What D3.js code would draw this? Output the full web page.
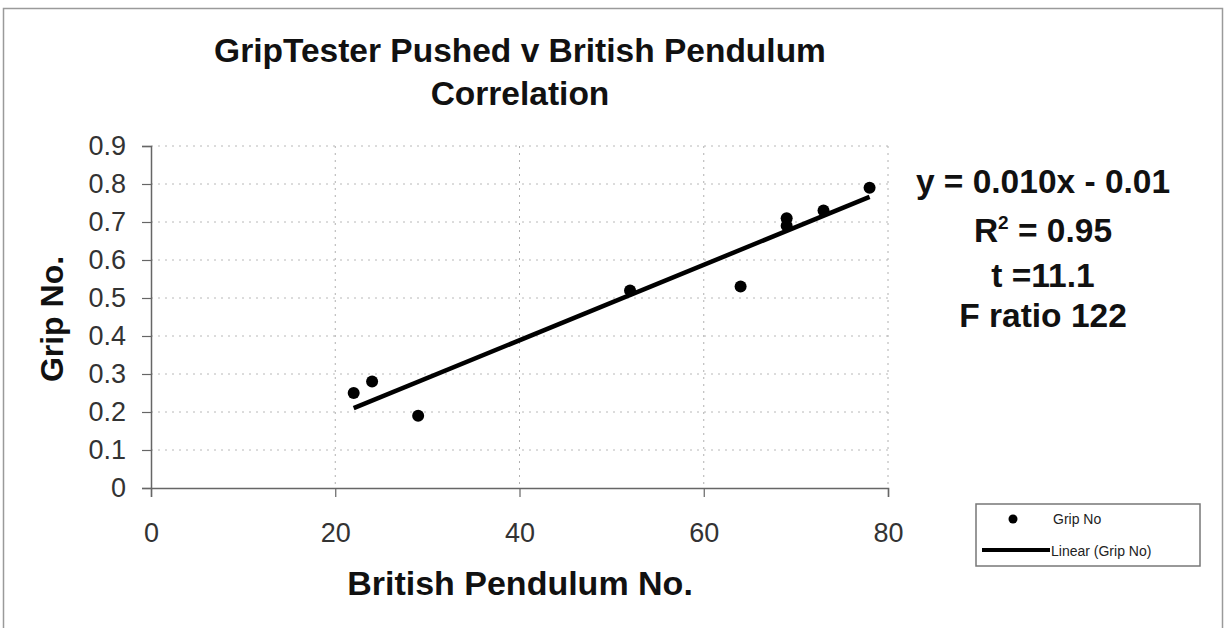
<!DOCTYPE html>
<meta charset="utf-8" />
<script src="https://d3js.org/d3.v7.min.js"></script>
<style>
  body { margin: 0; background: #fff; }
  text { font-family: "Liberation Sans", Arial, sans-serif; }
</style>
<body>
  <div id="my_dataviz"></div>
</body>
<script>
  // data
  var pendulumNo = [22, 24, 29, 52, 64, 69, 69, 73, 78];
  var gripNo = [0.25, 0.28, 0.19, 0.52, 0.53, 0.71, 0.69, 0.73, 0.79];
  var xTicks = [0, 20, 40, 60, 80];
  var yTicks = [0, 0.1, 0.2, 0.3, 0.4, 0.5, 0.6, 0.7, 0.8, 0.9];
  var statLines = ["y = 0.010x - 0.01", "R2 = 0.95", "t =11.1", "F ratio 122"];
  var legendLabels = ["Grip No", "Linear (Grip No)"];

  var W = 1225, H = 628;
  var margin = { top: 146, right: 337, bottom: 140, left: 151 },
    width = W - margin.left - margin.right,
    height = H - margin.top - margin.bottom;

  var svg = d3.select("#my_dataviz")
    .append("svg")
    .attr("width", W)
    .attr("height", H);

  // outer chart border
  svg.append("rect")
    .attr("x", 3.5).attr("y", 8.5)
    .attr("width", 1219).attr("height", 640)
    .attr("fill", "none")
    .attr("stroke", "#9a9a9a")
    .attr("stroke-width", 1.5);

  var g = svg.append("g")
    .attr("transform", "translate(" + margin.left + "," + margin.top + ")");

  var x = d3.scaleLinear().domain([0, 80]).range([0, width]);
  var y = d3.scaleLinear().domain([0, 0.9]).range([height, 0]);

  // gridlines
  g.append("g").selectAll("line")
    .data(yTicks.slice(1))
    .enter().append("line")
    .attr("x1", 0).attr("x2", width)
    .attr("y1", function (d) { return y(d); })
    .attr("y2", function (d) { return y(d); })
    .attr("stroke", "#b8b8b8")
    .attr("stroke-dasharray", "2,5");
  g.append("g").selectAll("line")
    .data(xTicks.slice(1))
    .enter().append("line")
    .attr("y1", 0).attr("y2", height)
    .attr("x1", function (d) { return x(d); })
    .attr("x2", function (d) { return x(d); })
    .attr("stroke", "#b0b0b0")
    .attr("stroke-dasharray", "2,5");

  // axes
  var xAxis = g.append("g")
    .attr("transform", "translate(0," + height + ")")
    .call(d3.axisBottom(x).tickValues(xTicks).tickSize(9).tickPadding(26)
      .tickFormat(d3.format("d")));
  var yAxis = g.append("g")
    .call(d3.axisLeft(y).tickValues(yTicks).tickSize(9).tickPadding(16)
      .tickFormat(function (d) { return d === 0 ? "0" : d3.format(".1f")(d); }));

  [xAxis, yAxis].forEach(function (a) {
    a.select(".domain").attr("stroke", "#666").attr("stroke-width", 1.5);
    a.selectAll(".tick line").attr("stroke", "#666").attr("stroke-width", 1.2);
    a.selectAll(".tick text")
      .attr("fill", "#333")
      .style("font-size", "27px");
  });

  // trend line (least squares from the points)
  var mx = d3.mean(pendulumNo), my = d3.mean(gripNo);
  var sxy = d3.sum(pendulumNo, function (d, i) { return (d - mx) * (gripNo[i] - my); });
  var sxx = d3.sum(pendulumNo, function (d) { return (d - mx) * (d - mx); });
  var slope = sxy / sxx, intercept = my - slope * mx;
  var xr = d3.extent(pendulumNo);

  g.append("path")
    .datum(xr)
    .attr("d", d3.line()
      .x(function (d) { return x(d); })
      .y(function (d) { return y(slope * d + intercept); }))
    .attr("stroke", "#000")
    .attr("stroke-width", 4.5)
    .attr("fill", "none");

  // points
  g.selectAll("circle.pt")
    .data(pendulumNo)
    .enter().append("circle")
    .attr("class", "pt")
    .attr("cx", function (d) { return x(d); })
    .attr("cy", function (d, i) { return y(gripNo[i]); })
    .attr("r", 6)
    .attr("fill", "#000");

  // titles
  var title = svg.append("text")
    .attr("text-anchor", "middle")
    .attr("font-weight", "bold")
    .style("font-size", "33.5px")
    .attr("fill", "#111");
  title.append("tspan").attr("x", 520).attr("y", 62).text("GripTester Pushed v British Pendulum");
  title.append("tspan").attr("x", 520).attr("y", 105).text("Correlation");

  svg.append("text")
    .attr("x", 520).attr("y", 595)
    .attr("text-anchor", "middle")
    .attr("font-weight", "bold")
    .style("font-size", "34px")
    .attr("fill", "#111")
    .text("British Pendulum No.");

  svg.append("text")
    .attr("transform", "translate(63,319) rotate(-90)")
    .attr("text-anchor", "middle")
    .attr("font-weight", "bold")
    .style("font-size", "32px")
    .attr("fill", "#111")
    .text("Grip No.");

  // regression statistics
  var statY = [193, 242, 287, 327];
  var stats = svg.append("g")
    .attr("font-weight", "bold")
    .style("font-size", "33.5px")
    .attr("fill", "#111")
    .attr("text-anchor", "middle");
  statLines.forEach(function (s, i) {
    var t = stats.append("text").attr("x", 1043).attr("y", statY[i]);
    if (i === 1) {
      t.append("tspan").text("R");
      t.append("tspan").attr("dy", -13).style("font-size", "19px").text("2");
      t.append("tspan").attr("dy", 13).text(" = 0.95");
    } else {
      t.text(s);
    }
  });

  // legend
  var legend = svg.append("g");
  legend.append("rect")
    .attr("x", 976).attr("y", 504)
    .attr("width", 224).attr("height", 62)
    .attr("fill", "#fff")
    .attr("stroke", "#777")
    .attr("stroke-width", 1.5);
  legend.append("circle")
    .attr("cx", 1013).attr("cy", 519).attr("r", 4.5).attr("fill", "#000");
  legend.append("line")
    .attr("x1", 982).attr("x2", 1050)
    .attr("y1", 550).attr("y2", 550)
    .attr("stroke", "#000").attr("stroke-width", 4);
  legend.selectAll("text.lg")
    .data(legendLabels)
    .enter().append("text")
    .attr("class", "lg")
    .attr("x", function (d, i) { return i === 0 ? 1053 : 1051; })
    .attr("y", function (d, i) { return i === 0 ? 524 : 556; })
    .style("font-size", "14px")
    .attr("fill", "#222")
    .text(function (d) { return d; });
</script>
